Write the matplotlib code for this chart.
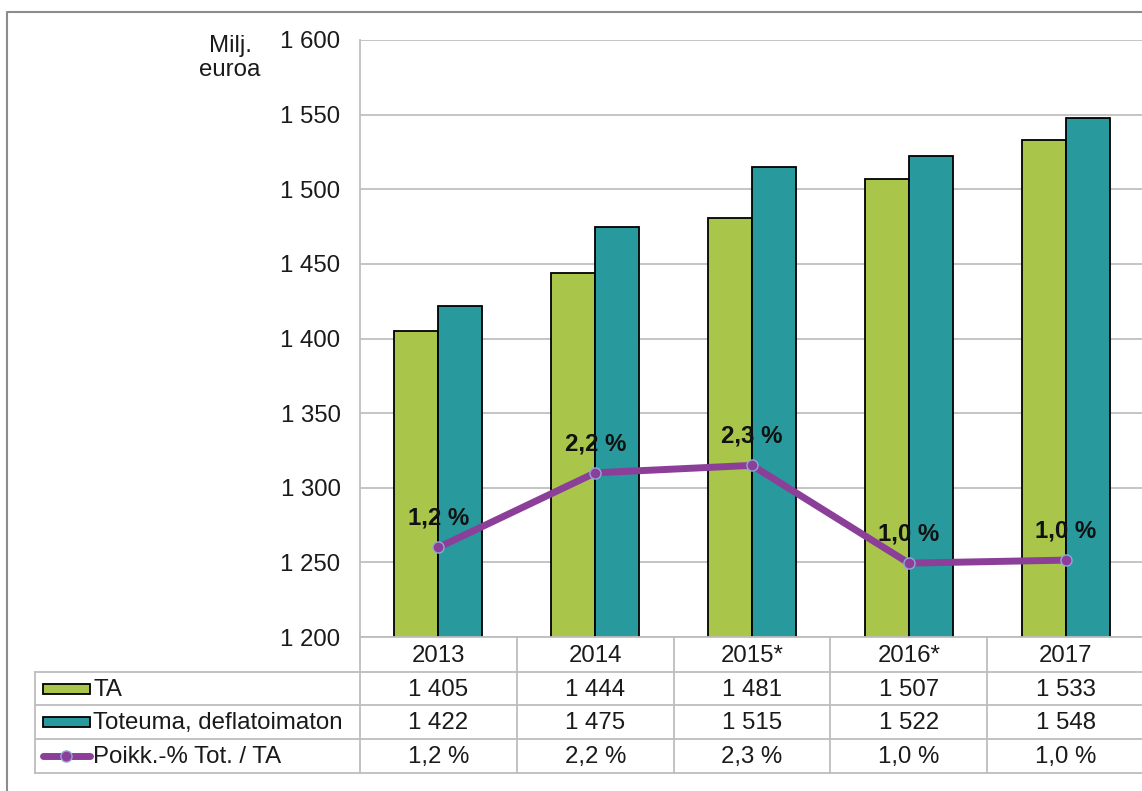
import numpy as np
import matplotlib.pyplot as plt
from matplotlib.lines import Line2D
from matplotlib.patches import Rectangle

plt.rcParams['font.family'] = ['Liberation Sans', 'DejaVu Sans']

years = ['2013', '2014', '2015*', '2016*', '2017']
ta = [1405, 1444, 1481, 1507, 1533]
toteuma = [1422, 1475, 1515, 1522, 1548]
poikk = [1.2, 2.2, 2.3, 0.99, 1.03]
poikk_labels = ['1,2 %', '2,2 %', '2,3 %', '1,0 %', '1,0 %']
yticks = [1200, 1250, 1300, 1350, 1400, 1450, 1500, 1550, 1600]

green = '#A9C64A'
teal = '#28999C'
purple = '#8B3F98'
grid_c = '#BFBFBF'
W, H = 1142, 791
FS = 17.3


def fmt_int(v):
    return f"{v:,}".replace(",", " ")


fig = plt.figure(figsize=(W / 100, H / 100), dpi=100)

# outer frame
fig.add_artist(Line2D([7 / W, 7 / W, 1.0], [0.0, 1 - 12 / H, 1 - 12 / H],
                      color='#8C8C8C', lw=1.5, transform=fig.transFigure))

x0, x1 = 360, 1144
ytop, ybot = 40, 637
ax = fig.add_axes([x0 / W, 1 - ybot / H, (x1 - x0) / W, (ybot - ytop) / H])
x = np.arange(len(years))
w = 0.28
ax.bar(x - w / 2, ta, w, color=green, edgecolor='black', lw=1.3, zorder=3)
ax.bar(x + w / 2, toteuma, w, color=teal, edgecolor='black', lw=1.3, zorder=3)
ax.set_xlim(-0.5, len(years) - 0.5)
ax.set_ylim(1200, 1600)
ax.set_yticks(yticks)
ax.set_yticklabels([fmt_int(v) for v in yticks], fontsize=FS, color='#1a1a1a')
ax.tick_params(axis='y', length=0, pad=14)
ax.set_xticks([])
ax.grid(axis='y', color=grid_c, lw=1.3, zorder=0)
for s in ['top', 'right', 'bottom']:
    ax.spines[s].set_visible(False)
ax.spines['left'].set_color(grid_c)
ax.spines['left'].set_linewidth(1.3)
ax.set_axisbelow(True)

ax2 = ax.twinx()
ax2.set_ylim(0, 8)
ax2.plot(x, poikk, color=purple, lw=5, marker='o', ms=8,
         mfc=purple, mec='#8FA8D8', mew=1, zorder=5)
for xi, p, lab in zip(x, poikk, poikk_labels):
    ax2.annotate(lab, (xi, p), xytext=(0, 21), textcoords='offset points',
                 ha='center', va='center', fontsize=FS, fontweight='bold',
                 color='#111111')
ax2.axis('off')

fig.text(230 / W, 1 - 58 / H, 'Milj.\neuroa', ha='center', va='center',
         fontsize=FS, color='#1a1a1a', linespacing=1.15)

# data table
tab = fig.add_axes([0, 0, 1, 1], facecolor='none')
tab.set_xlim(0, W)
tab.set_ylim(H, 0)
tab.axis('off')
col_edges = [x0 + i * (x1 - x0) / len(years) for i in range(len(years) + 1)]
row_edges = [637, 672, 705, 739, 773]
tl = 35
lc = '#BDBDBD'
tab.plot([x0, x1], [row_edges[0]] * 2, color=lc, lw=1.3)
for ry in row_edges[1:]:
    tab.plot([tl, x1], [ry, ry], color=lc, lw=1.3)
tab.plot([tl, tl], [row_edges[1], row_edges[-1]], color=lc, lw=1.3)
for cx in col_edges:
    tab.plot([cx, cx], [row_edges[0], row_edges[-1]], color=lc, lw=1.3)

rows = [years, [fmt_int(v) for v in ta], [fmt_int(v) for v in toteuma],
        [f"{p:.1f} %".replace('.', ',') for p in poikk]]
for r, vals in enumerate(rows):
    yc = (row_edges[r] + row_edges[r + 1]) / 2
    for c, v in enumerate(vals):
        xc = (col_edges[c] + col_edges[c + 1]) / 2
        tab.text(xc, yc + 1, v, ha='center', va='center', fontsize=FS,
                 color='#1a1a1a')

labels = ['TA', 'Toteuma, deflatoimaton', 'Poikk.-% Tot. / TA']
for r, lab in enumerate(labels):
    yc = (row_edges[r + 1] + row_edges[r + 2]) / 2
    if r < 2:
        tab.add_patch(Rectangle((43, yc - 5), 47, 10,
                                facecolor=[green, teal][r],
                                edgecolor='black', lw=1.3))
    else:
        tab.plot([43, 90], [yc, yc], color=purple, lw=5,
                 solid_capstyle='round')
        tab.plot([66], [yc], marker='o', ms=8, mfc=purple, mec='#8FA8D8',
                 mew=1)
    tab.text(93, yc + 1, lab, ha='left', va='center', fontsize=FS,
             color='#1a1a1a')

fig.savefig('out.png', dpi=100)
